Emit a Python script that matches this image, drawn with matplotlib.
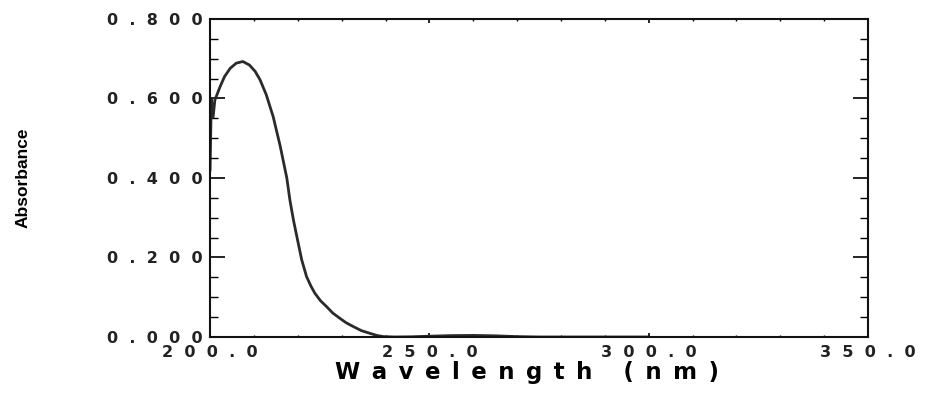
import matplotlib
matplotlib.use('Agg')
import matplotlib.pyplot as plt
from matplotlib.ticker import MultipleLocator, FuncFormatter

# values
wavelength = [200.0, 200.3, 200.7, 201.1, 202.3, 203.3, 204.6, 206.0, 207.5, 209.0,
              210.3, 211.4, 212.8, 214.4, 216.0, 217.5, 218.2, 219.0, 219.8, 220.9,
              222.0, 223.0, 223.9, 225.2, 226.6, 228.0, 229.6, 231.0, 232.7, 234.5,
              236.5, 238.0, 239.5, 242.0, 246.0, 250.0, 255.0, 260.0, 265.0, 270.0,
              275.0, 300.0]
absorbance = [0.42, 0.60, 0.553, 0.596, 0.630, 0.655, 0.676, 0.689, 0.693, 0.684,
              0.668, 0.647, 0.610, 0.554, 0.480, 0.400, 0.345, 0.295, 0.252, 0.194,
              0.152, 0.128, 0.110, 0.091, 0.076, 0.060, 0.047, 0.036, 0.026, 0.016,
              0.009, 0.004, 0.001, 0.0, 0.0005, 0.002, 0.0035, 0.004, 0.003, 0.001,
              0.0, 0.0]

x_range = (200, 350)
y_range = (0, 0.8)

fig = plt.figure(figsize=(9.36, 3.99), dpi=100)
ax = fig.add_axes([0.2244, 0.1554, 0.703, 0.797])

ax.plot(wavelength, absorbance, color='#2a2a2a', lw=2.0)

ax.set_xlim(*x_range)
ax.set_ylim(*y_range)

for s in ax.spines.values():
    s.set_linewidth(1.5)
    s.set_color('#111111')

ax.xaxis.set_major_locator(MultipleLocator(50))
ax.xaxis.set_minor_locator(MultipleLocator(10))
ax.yaxis.set_major_locator(MultipleLocator(0.2))
ax.yaxis.set_minor_locator(MultipleLocator(0.05))

# spaced-out labels like the old printout
spaced = lambda s: '  '.join(s)
ax.xaxis.set_major_formatter(FuncFormatter(lambda v, p: spaced(f'{v:.1f}')))
ax.yaxis.set_major_formatter(FuncFormatter(lambda v, p: spaced(f'{v:.3f}')))

ax.tick_params(axis='y', which='major', direction='in', length=11, width=1.2,
               left=True, right=True, pad=5, labelsize=11.5)
ax.tick_params(axis='y', which='minor', direction='in', length=5.5, width=1.0,
               left=True, right=True)
ax.tick_params(axis='x', which='major', direction='in', length=3, width=1.2,
               bottom=True, top=True, pad=5.5, labelsize=11.5)
ax.tick_params(axis='x', which='minor', direction='in', length=1.5, width=1.0,
               bottom=True, top=True)
for lab in ax.get_xticklabels() + ax.get_yticklabels():
    lab.set_fontweight('bold')
    lab.set_color('#222222')

ax.set_xlabel('\u2002'.join('Wavelength (nm)'), fontsize=16.5, fontweight='bold',
              labelpad=0)
ax.xaxis.set_label_coords(0.482, -0.075)
ax.set_ylabel('Absorbance', fontsize=12.5, fontweight='bold',
              family=['Liberation Sans', 'DejaVu Sans'])
ax.yaxis.set_label_coords(-0.272, 0.5)

fig.savefig('out.png', dpi=100)
